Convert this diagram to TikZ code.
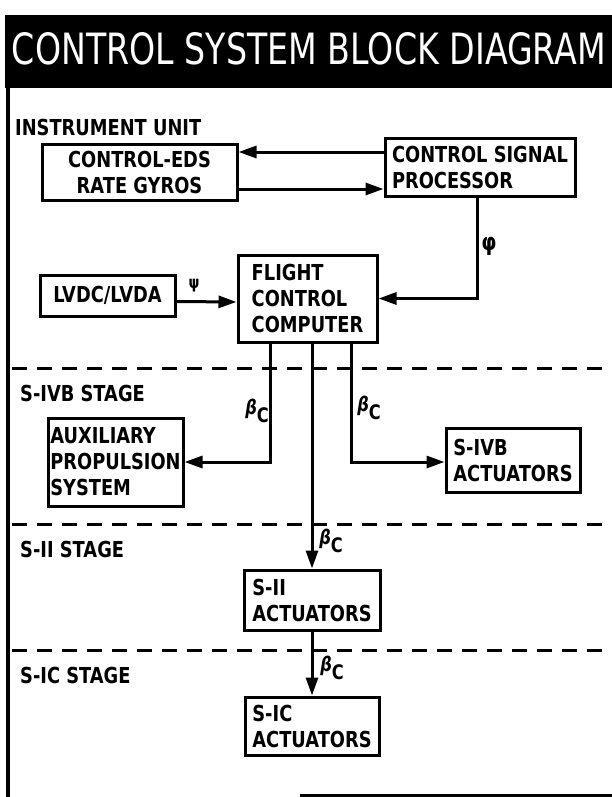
\documentclass[tikz,border=0pt]{standalone}
\usepackage{fontspec}
\usepackage{graphicx}
\usetikzlibrary{arrows.meta}
\newfontfamily\lettering[FakeStretch=0.81]{DejaVu Sans}

\begin{document}
\begin{tikzpicture}[x=1pt, y=-1pt,
    box/.style={draw, line width=3pt, inner sep=2pt,
      font=\lettering\bfseries\fontsize{22}{26}\selectfont},
    lbl/.style={anchor=west, inner sep=0pt,
      font=\lettering\bfseries\fontsize{22}{26}\selectfont},
    sig/.style={line width=3pt, -{Triangle[length=18pt,width=12pt]}},
    betac/.style={inner sep=0pt, font=\lettering\bfseries\fontsize{20}{22}\selectfont}]
    \useasboundingbox (0,0) rectangle (612,797);
    % frame and title
    \fill (5,15) rectangle (612,88);
    \draw[line width=4pt] (8,86) -- (8,797);
    \draw[line width=3pt] (300,795) -- (612,795);
    \node[text=white, inner sep=0pt] (title) at (309,49)
      {\resizebox{594pt}{32pt}{\lettering CONTROL SYSTEM BLOCK DIAGRAM}};
    \node[lbl] (iu) at (15,127) {INSTRUMENT UNIT};
    \foreach \y/\stage/\name in {%
      368/{S-IVB STAGE}/sivbst,%
      524/{S-II STAGE}/siist,%
      650/{S-IC STAGE}/sicst%
    }{%
      \draw[line width=3pt, dash pattern=on 15pt off 10pt] (12,\y) -- (612,\y);
      \node[lbl] (\name) at (20,\y+25) {\stage};
    }
    % blocks
    \node[box, minimum width=195pt, minimum height=56pt, align=center] (eds)
      at (139.5,172) {CONTROL-EDS\\RATE GYROS};
    \node[box, minimum width=190pt, minimum height=58pt, align=left] (csp)
      at (480,167) {CONTROL SIGNAL\\PROCESSOR};
    \node[box, minimum width=135pt, minimum height=41pt] (lvdc)
      at (107.5,295.5) {LVDC/LVDA};
    \node[box, minimum width=139pt, minimum height=87pt, align=left] (fcc)
      at (307.5,298.5) {FLIGHT\\CONTROL\\COMPUTER};
    \node[box, minimum width=135pt, minimum height=88pt, align=left] (aps)
      at (115.5,462) {AUXILIARY\\PROPULSION\\SYSTEM};
    \node[box, minimum width=134pt, minimum height=64pt, align=left] (sivb)
      at (513,460) {S-IVB\\ACTUATORS};
    \node[box, minimum width=136pt, minimum height=60pt, align=left] (sii)
      at (312,600) {S-II\\ACTUATORS};
    \node[box, minimum width=134pt, minimum height=58pt, align=left] (sic)
      at (312,726) {S-IC\\ACTUATORS};
    % signals
    \draw[sig] ([yshift=15pt]csp.west) -- ([yshift=20pt]eds.east);
    \draw[sig] ([yshift=-17pt]eds.east) -- ([yshift=-22pt]csp.west);
    \draw[sig] ([xshift=-3pt]csp.south) |- (fcc.east);
    \draw[sig] ([yshift=-6pt]lvdc.east) -- ([yshift=-3.5pt]fcc.west);
    \draw[sig] ([xshift=-37.5pt]fcc.south) |- (aps.east);
    \draw[sig] ([xshift=43.5pt]fcc.south) |- ([yshift=-2pt]sivb.west);
    \draw[sig] (fcc.south -| sii.north) -- (sii.north);
    \draw[sig] (sii.south) -- (sic.north);
    \node[betac, font=\lettering\bfseries\fontsize{24}{26}\selectfont] (phi)
      at (489,246) {φ};
    \node[betac, font=\lettering\bfseries\fontsize{17}{19}\selectfont] (psi)
      at (194,286) {ψ};
    \foreach \x/\y/\name in {257/411/bcaps, 369/408/bcsivb, 331/541/bcsii, 332/668/bcsic}
      \node[betac] (\name) at (\x,\y) {\itshape β\raisebox{-8pt}{\upshape C}};
\end{tikzpicture}
\end{document}
